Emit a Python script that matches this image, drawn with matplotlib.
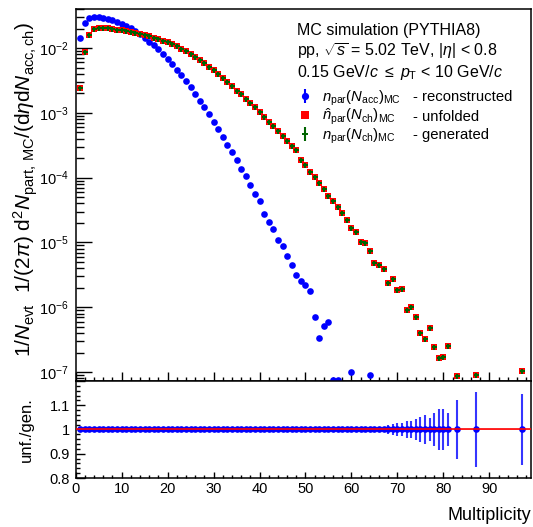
import matplotlib
matplotlib.use("Agg")
import matplotlib.pyplot as plt
import numpy as np
from matplotlib.lines import Line2D
from matplotlib.ticker import MultipleLocator, LogLocator, NullFormatter, FuncFormatter

plt.rcParams['font.family'] = ['Liberation Sans', 'DejaVu Sans']
plt.rcParams['mathtext.fontset'] = 'custom'
plt.rcParams['mathtext.rm'] = 'Liberation Sans'
plt.rcParams['mathtext.it'] = 'Liberation Sans:italic'
plt.rcParams['mathtext.bf'] = 'Liberation Sans:bold'

# reconstructed n_par(N_acc)
reco_mult = list(range(1, 56)) + [56, 57, 60, 64]
reco_val = [0.0141, 0.024, 0.0294, 0.0304, 0.0301, 0.029, 0.028, 0.0268, 0.0255, 0.0237,
            0.0221, 0.0201, 0.0181, 0.0163, 0.0144, 0.0125, 0.0110, 0.0095, 0.0081, 0.0068,
            0.0056, 0.00462, 0.00379, 0.00306, 0.00247, 0.00195, 0.00154, 0.00122, 0.00095, 0.000713,
            0.000556, 0.000418, 0.000318, 0.000248, 0.000189, 0.000137, 0.000105, 7.7e-5, 5.6e-5, 4.3e-5,
            2.74e-5, 2.04e-5, 1.61e-5, 1.08e-5, 8.7e-6, 6.24e-6, 4.53e-6, 3.17e-6, 2.54e-6, 2.18e-6,
            1.8e-6, 7.06e-7, 3.35e-7, 5.13e-7, 5.9e-7,
            7.6e-8, 7.6e-8, 1.01e-7, 9.0e-8]

# generated n_par(N_ch)
gen_mult = list(range(1, 82)) + [83, 87, 97]
gen_val = [0.00239, 0.00877, 0.0159, 0.0196, 0.0207, 0.0206, 0.0201, 0.0196, 0.0191, 0.0187,
           0.0181, 0.0179, 0.0171, 0.0164, 0.0159, 0.0151, 0.0144, 0.0138, 0.0130, 0.0122,
           0.0114, 0.0106, 0.0098, 0.0089, 0.00808, 0.00726, 0.00653, 0.0058, 0.00515, 0.00457,
           0.00397, 0.0034, 0.00296, 0.00259, 0.00219, 0.00193, 0.00163, 0.0014, 0.00122, 0.00104,
           0.00087, 0.00073, 0.000625, 0.000524, 0.000443, 0.000371, 0.00031, 0.000264, 1.87e-4, 1.56e-4,
           1.21e-4, 1.01e-4, 8.17e-5, 6.6e-5, 5.2e-5, 4.4e-5, 3.48e-5, 2.81e-5, 2.19e-5, 1.65e-5,
           1.45e-5, 1.0e-5, 9.7e-6, 7.3e-6, 4.76e-6, 4.43e-6, 3.85e-6, 2.34e-6, 2.72e-6, 1.84e-6,
           1.91e-6, 8.95e-7, 1.01e-6, 6.98e-7, 3.95e-7, 3.2e-7, 4.72e-7, 2.43e-7, 1.64e-7, 1.69e-7,
           2.52e-7, 8.6e-8, 9.0e-8, 1.03e-7]
# unfolded (agrees with generated)
unf_val = list(gen_val)

# statistical uncertainty of unf./gen.
ratio_err = [0.0005, 0.0005, 0.0005, 0.0005, 0.0005, 0.0005, 0.0005, 0.0005, 0.0005, 0.0005,
             0.0005, 0.0005, 0.0005, 0.0005, 0.0005, 0.0005, 0.0005, 0.0005, 0.0005, 0.0005,
             0.0005, 0.0005, 0.0005, 0.0005, 0.0005, 0.0005, 0.0005, 0.0005, 0.0005, 0.0005,
             0.0005, 0.0005, 0.0005, 0.0005, 0.0005, 0.0005, 0.0005, 0.0005, 0.0005, 0.0005,
             0.001, 0.001, 0.001, 0.001, 0.001, 0.001, 0.001, 0.001, 0.001, 0.001,
             0.001, 0.001, 0.001, 0.001, 0.001, 0.002, 0.002, 0.002, 0.002, 0.002,
             0.003, 0.004, 0.005, 0.006, 0.007, 0.008, 0.011, 0.018, 0.022, 0.027,
             0.025, 0.035, 0.035, 0.042, 0.052, 0.061, 0.046, 0.068, 0.083, 0.083,
             0.068, 0.121, 0.154, 0.147]

ratio = np.array(unf_val) / np.array(gen_val)

W, H = 533, 527
fig = plt.figure(figsize=(W / 100, H / 100), dpi=100)
ax = fig.add_axes([75.7 / W, 1 - 381 / H, 455 / W, 372 / H])
axr = fig.add_axes([75.7 / W, 1 - 478 / H, 455 / W, 97 / H], sharex=ax)

green = '#006400'
ax.plot(reco_mult, reco_val, 'o', color='blue', ms=4.8, mew=0, zorder=3)
ax.plot(gen_mult, unf_val, 's', color='red', ms=5.0, mew=0, zorder=4)
ax.plot(gen_mult, gen_val, 'P', color=green, ms=3.6, mew=0, zorder=5)

ax.set_yscale('log')
ax.set_xlim(0, 99)
ax.set_ylim(7.3e-8, 0.04)
ax.xaxis.set_major_locator(MultipleLocator(10))
ax.xaxis.set_minor_locator(MultipleLocator(2))
ax.yaxis.set_major_locator(LogLocator(base=10, numticks=20))
ax.yaxis.set_minor_locator(LogLocator(base=10, subs=np.arange(2, 10), numticks=20))
ax.yaxis.set_minor_formatter(NullFormatter())
ax.tick_params(axis='x', which='major', direction='in', length=6.5, width=1, labelbottom=False)
ax.tick_params(axis='x', which='minor', direction='in', length=3.2, width=1)
ax.tick_params(axis='y', which='major', direction='in', length=11.5, width=1, labelsize=10.5, pad=5)
ax.tick_params(axis='y', which='minor', direction='in', length=5.8, width=1)
for s in ax.spines.values():
    s.set_linewidth(1.1)

ax.set_ylabel(r'1/$N_{\rm evt}$  1/(2$\pi$) d$^{2}$$N_{\rm part,\,MC}$/(d$\eta$d$N_{\rm acc,ch}$)',
              fontsize=15)
ax.yaxis.set_label_coords(-0.079, 0.515)

fig.text(297 / W, 1 - 30 / H, 'MC simulation (PYTHIA8)', fontsize=11.5, va='center')
fig.text(297 / W, 1 - 51 / H, r'pp, $\sqrt{s}$ = 5.02 TeV, |$\eta$| < 0.8', fontsize=11.5, va='center')
fig.text(297 / W, 1 - 72 / H, r'0.15 GeV/$c$ $\leq$ $p_{\rm T}$ < 10 GeV/$c$', fontsize=11.5, va='center')

# legend: one row per entry, description column aligned on the math baseline
h_reco = (Line2D([], [], ls='none', marker='|', ms=10, mew=1.5, color='blue'),
          Line2D([], [], ls='none', marker='o', ms=5.2, mew=0, color='blue'))
h_unf = Line2D([], [], ls='none', marker='s', ms=6.0, mew=0, color='red')
h_gen = (Line2D([], [], ls='none', marker='|', ms=10, mew=1.5, color=green),
         Line2D([], [], ls='none', marker='P', ms=4.8, mew=0, color=green))
entries = [(h_reco, r'$n_{\rm par}(N_{\rm acc})_{\rm MC}$', '- reconstructed', 98),
           (h_unf, r'$\hat{n}_{\rm par}(N_{\rm ch})_{\rm MC}$', '- unfolded', 117),
           (h_gen, r'$n_{\rm par}(N_{\rm ch})_{\rm MC}$', '- generated', 136)]
legs = []
for h, lab, desc, yrow in entries:
    leg = fig.legend([h], [lab], loc='center left', bbox_to_anchor=(298 / W, 1 - yrow / H),
                     frameon=False, fontsize=10.7, borderpad=0, borderaxespad=0,
                     handlelength=1.0, handletextpad=0.6)
    legs.append((leg, desc))

fig.canvas.draw()
renderer = fig.canvas.get_renderer()
for leg, desc in legs:
    t = leg.get_texts()[0]
    bb = t.get_window_extent(renderer)
    _, _, d = renderer.get_text_width_height_descent(t.get_text(), t.get_fontproperties(), ismath=True)
    fig.text(413 / W, (bb.y0 + d) / fig.bbox.height, desc, fontsize=10.7, va='baseline')

axr.errorbar(gen_mult, ratio, yerr=ratio_err, fmt='o', color='blue', ms=4.8, mew=0,
             ecolor='#3535ff', elinewidth=1.5, capsize=0, zorder=3)
axr.axhspan(0.997, 1.003, color='#ffaaaa', lw=0, zorder=2)
axr.axhline(1, color='red', lw=1.2, zorder=4)
axr.set_ylim(0.8, 1.2)
axr.yaxis.set_major_locator(MultipleLocator(0.1))
axr.yaxis.set_minor_locator(MultipleLocator(0.02))
axr.yaxis.set_major_formatter(FuncFormatter(lambda v, p: '' if v > 1.15 else '%g' % round(v, 2)))
axr.tick_params(axis='x', which='major', direction='in', length=4.3, width=1, labelsize=10.5, pad=3)
axr.tick_params(axis='x', which='minor', direction='in', length=2.2, width=1)
axr.tick_params(axis='y', which='major', direction='in', length=6.5, width=1, labelsize=10.5, pad=4)
axr.tick_params(axis='y', which='minor', direction='in', length=3.2, width=1)
axr.xaxis.set_major_formatter(FuncFormatter(lambda v, p: '%g' % v))
for s in axr.spines.values():
    s.set_linewidth(1.1)
axr.set_ylabel('unf./gen.', fontsize=12)
axr.yaxis.set_label_coords(-0.092, 0.5)
axr.set_xlabel('Multiplicity', fontsize=13)
axr.xaxis.set_label_coords(1.0, -0.3)
axr.xaxis.label.set_horizontalalignment('right')

fig.savefig('out.png', dpi=100)
